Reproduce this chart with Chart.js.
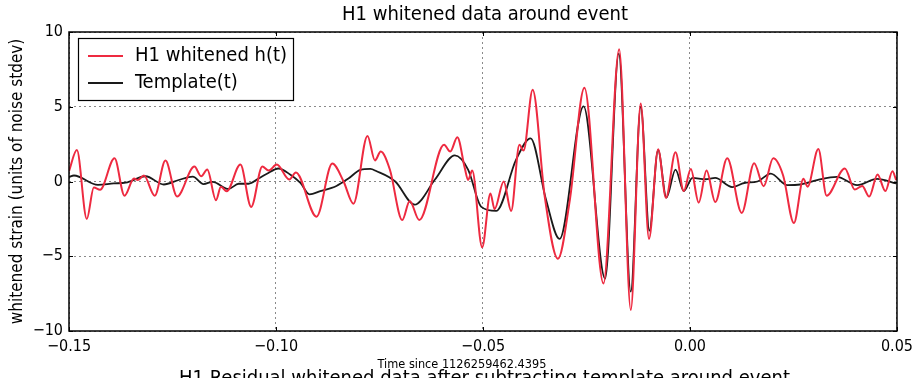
<!DOCTYPE html>
<html>
<head>
<meta charset="utf-8">
<script src="https://cdn.jsdelivr.net/npm/chart.js@4.4.1/dist/chart.umd.min.js"></script>
<style>
  html, body { margin: 0; padding: 0; background: #fff; overflow: hidden; }
  #wrap { position: relative; width: 919px; height: 378px; overflow: hidden; }
  #next-title {
    position: absolute; left: 25px; top: 365px; width: 919px; text-align: center;
    font: 20px "DejaVu Sans Condensed", "DejaVu Sans", sans-serif; color: #000; white-space: nowrap;
  }
</style>
</head>
<body>
<div id="wrap">
  <canvas id="chart" width="919" height="378"></canvas>
  <div id="next-title">H1 Residual whitened data after subtracting template around event</div>
</div>
<script>
// H1 whitened strain
const hTime = [
  -0.1500, -0.1481, -0.1457, -0.1440, -0.1425, -0.1390, -0.1366, -0.1343, -0.1334, -0.1319,
  -0.1293, -0.1267, -0.1239, -0.1197, -0.1181, -0.1166, -0.1145, -0.1133, -0.1119, -0.1086,
  -0.1060, -0.1033, -0.1018, -0.0998, -0.0968, -0.0952, -0.0902, -0.0864, -0.0837, -0.0813,
  -0.0779, -0.0761, -0.0747, -0.0725, -0.0695, -0.0677, -0.0654, -0.0594, -0.0579, -0.0562,
  -0.0544, -0.0536, -0.0526, -0.0502, -0.0482, -0.0472, -0.0450, -0.0432, -0.0412, -0.0402,
  -0.0380, -0.0351, -0.0319, -0.0290, -0.0255, -0.0209, -0.0171, -0.0143, -0.0119, -0.0099,
  -0.0077, -0.0058, -0.0035, -0.0015, 0.0002, 0.0021, 0.0040, 0.0061, 0.0090, 0.0125,
  0.0155, 0.0178, 0.0201, 0.0225, 0.0251, 0.0274, 0.0284, 0.0310, 0.0330, 0.0374,
  0.0398, 0.0416, 0.0433, 0.0453, 0.0472, 0.0489, 0.0498
];
const hStrain = [
  0.70, 2.10, -2.50, -0.40, -0.55, 1.55, -0.95, 0.20, 0.10, 0.40,
  -0.95, 1.40, -1.00, 1.00, 0.35, 0.80, -1.25, -0.35, -0.65, 1.13,
  -1.70, 1.00, 0.73, 1.13, 0.13, 0.60, -2.35, 1.20, 0.02, -1.48,
  3.05, 1.41, 2.00, 0.80, -2.58, -1.30, -2.58, 2.45, 2.00, 2.96,
  0.90, 0.10, 0.73, -4.40, -0.80, -1.85, 0.00, -1.97, 2.45, 2.07,
  6.14, -0.97, -5.17, -1.19, 6.27, -6.82, 8.85, -8.59, 5.21, -3.84,
  2.15, -1.08, 1.95, -0.64, 0.84, -1.41, 0.73, -1.37, 1.55, -2.10,
  1.22, -0.31, 1.55, 0.40, -2.78, 0.18, -0.35, 2.17, -0.95, 0.87,
  -0.53, -0.30, -1.01, 0.46, -0.64, 0.68, 0.10
];

// matched template
const tmplTime = [
  -0.1500, -0.1488, -0.1430, -0.1392, -0.1363, -0.1315, -0.1271, -0.1235, -0.1201, -0.1175,
  -0.1153, -0.1115, -0.1090, -0.1066, -0.1042, -0.1023, -0.0994, -0.0965, -0.0941, -0.0919,
  -0.0893, -0.0854, -0.0825, -0.0796, -0.0772, -0.0758, -0.0712, -0.0665, -0.0616, -0.0568,
  -0.0536, -0.0504, -0.0468, -0.0420, -0.0385, -0.0348, -0.0315, -0.0257, -0.0205, -0.0172,
  -0.0143, -0.0119, -0.0098, -0.0077, -0.0057, -0.0035, -0.0015, 0.0006, 0.0037, 0.0061,
  0.0102, 0.0131, 0.0163, 0.0195, 0.0235, 0.0266, 0.0307, 0.0355, 0.0404, 0.0452, 0.0498
];
const tmplStrain = [
  0.30, 0.40, -0.23, -0.13, -0.08, 0.35, -0.20, 0.10, 0.33, -0.17,
  -0.02, -0.50, -0.15, -0.15, 0.20, 0.50, 0.87, 0.45, -0.10, -0.86,
  -0.65, -0.30, 0.20, 0.78, 0.84, 0.70, 0.00, -1.55, 0.13, 1.75,
  0.80, -1.70, -1.97, 1.46, 2.89, -1.19, -3.84, 5.03, -6.49, 8.56,
  -7.37, 5.00, -3.29, 2.10, -1.08, 0.80, -0.64, 0.24, 0.15, 0.24,
  -0.37, -0.10, 0.00, 0.53, -0.24, -0.20, 0.09, 0.31, -0.24, 0.18, -0.13
];

const xTicks = [-0.15, -0.10, -0.05, 0.00, 0.05];
const yTicks = [-10, -5, 0, 5, 10];

const FONT = '"DejaVu Sans Condensed", "DejaVu Sans", sans-serif';
Chart.defaults.font.family = FONT;
Chart.defaults.color = '#000';

function minus(s) { return s.replace('-', '\u2212'); }

// title, x label, box, inward ticks and legend drawn like matplotlib
const framePlugin = {
  id: 'frame',
  afterDatasetsDraw(chart) {
    const ctx = chart.ctx;
    const a = chart.chartArea;
    const xs = chart.scales.x, ys = chart.scales.y;
    ctx.save();
    ctx.strokeStyle = '#000';
    ctx.lineWidth = 1;
    ctx.beginPath();
    xTicks.forEach(v => {
      const px = Math.round(xs.getPixelForValue(v)) + 0.5;
      ctx.moveTo(px, a.top); ctx.lineTo(px, a.top + 4);
      ctx.moveTo(px, a.bottom); ctx.lineTo(px, a.bottom - 4);
    });
    yTicks.forEach(v => {
      const py = Math.round(ys.getPixelForValue(v)) + 0.5;
      ctx.moveTo(a.left, py); ctx.lineTo(a.left + 4, py);
      ctx.moveTo(a.right, py); ctx.lineTo(a.right - 4, py);
    });
    ctx.stroke();
    ctx.lineWidth = 1.5;
    ctx.strokeRect(a.left, a.top, a.right - a.left, a.bottom - a.top);

    // titles
    ctx.fillStyle = '#000';
    ctx.textAlign = 'center';
    ctx.textBaseline = 'middle';
    ctx.font = '20px ' + FONT;
    ctx.fillText('H1 whitened data around event', (a.left + a.right) / 2 + 2, 15);
    ctx.font = '12.6px ' + FONT;
    ctx.fillText('Time since 1126259462.4395', 462, 365);

    // legend box
    const lx = a.left + 9, ly = a.top + 6, lw = 215, lh = 62;
    ctx.fillStyle = '#fff';
    ctx.fillRect(lx, ly, lw, lh);
    ctx.lineWidth = 1.2;
    ctx.strokeRect(lx + 0.5, ly + 0.5, lw, lh);
    ctx.font = '20px ' + FONT;
    ctx.textAlign = 'left';
    chart.data.datasets.forEach((ds, i) => {
      const y = ly + 18 + i * 27;
      ctx.strokeStyle = ds.borderColor;
      ctx.lineWidth = ds.borderWidth;
      ctx.beginPath();
      ctx.moveTo(lx + 10, y); ctx.lineTo(lx + 45, y);
      ctx.stroke();
      ctx.fillStyle = '#000';
      ctx.fillText(ds.label, lx + 57, y);
    });
    ctx.restore();
  }
};

new Chart(document.getElementById('chart'), {
  type: 'line',
  data: {
    datasets: [
      {
        label: 'H1 whitened h(t)',
        data: hTime.map((t, i) => ({ x: t, y: hStrain[i] })),
        borderColor: '#ee2a40',
        borderWidth: 2,
        pointRadius: 0,
        cubicInterpolationMode: 'monotone'
      },
      {
        label: 'Template(t)',
        data: tmplTime.map((t, i) => ({ x: t, y: tmplStrain[i] })),
        borderColor: '#1a1a1a',
        borderWidth: 1.8,
        pointRadius: 0,
        cubicInterpolationMode: 'monotone'
      }
    ]
  },
  options: {
    responsive: false,
    animation: false,
    layout: { padding: { left: 0, right: 20, top: 32, bottom: 0 } },
    plugins: {
      legend: { display: false },
      tooltip: { enabled: false },
      title: { display: false }
    },
    scales: {
      x: {
        type: 'linear',
        min: -0.15,
        max: 0.05,
        afterFit: s => { s.height = 47; },
        afterBuildTicks: s => { s.ticks = xTicks.map(v => ({ value: v })); },
        ticks: {
          padding: 6,
          font: { size: 16 },
          maxRotation: 0,
          callback: v => minus(v.toFixed(2))
        },
        grid: { color: '#8a8a8a', drawTicks: false, lineWidth: 1 },
        border: { display: false, dash: [2, 3] },
        title: { display: false }
      },
      y: {
        min: -10,
        max: 10,
        afterFit: s => { s.width = 69; },
        afterBuildTicks: s => { s.ticks = yTicks.map(v => ({ value: v })); },
        ticks: {
          padding: 6,
          font: { size: 16 },
          callback: v => minus(String(v))
        },
        grid: { color: '#8a8a8a', drawTicks: false, lineWidth: 1 },
        border: { display: false, dash: [2, 3] },
        title: {
          display: true,
          text: 'whitened strain (units of noise stdev)',
          font: { size: 17 },
          padding: { top: 7, bottom: 0 }
        }
      }
    }
  },
  plugins: [framePlugin]
});
</script>
</body>
</html>
